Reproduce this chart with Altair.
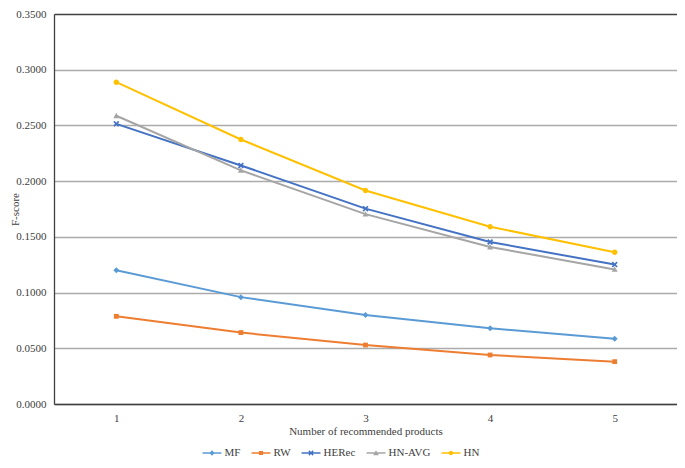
import altair as alt
import pandas as pd

# ---- data ----
products = [1, 2, 3, 4, 5]
series_names = ["MF", "RW", "HERec", "HN-AVG", "HN"]
mf = [0.1200, 0.0959, 0.0799, 0.0680, 0.0586]
rw = [0.0787, 0.0641, 0.0529, 0.0440, 0.0380]
herec = [0.2514, 0.2141, 0.1753, 0.1454, 0.1251]
hn_avg = [0.2587, 0.2097, 0.1704, 0.1409, 0.1208]
hn = [0.2888, 0.2374, 0.1916, 0.1591, 0.1362]
y_ticks = [0.0, 0.05, 0.10, 0.15, 0.20, 0.25, 0.30, 0.35]
colors = ["#5B9BD5", "#ED7D31", "#4472C4", "#A5A5A5", "#FFC000"]

rows = []
for name, vals in zip(series_names, [mf, rw, herec, hn_avg, hn]):
    for p, v in zip(products, vals):
        rows.append({"n": p, "series": name, "fscore": v})
df = pd.DataFrame(rows)


# ---- marker shapes (unit-square svg paths) ----
def diamond(k):
    return f"M0,{-k}L{k},0L0,{k}L{-k},0Z"


def square(k):
    return f"M{-k},{-k}L{k},{-k}L{k},{k}L{-k},{k}Z"


def triangle(k):
    return f"M0,{-k}L{k},{0.8*k}L{-k},{0.8*k}Z"


def circle(k):
    return f"M{k},0A{k},{k} 0 1,1 {-k},0A{k},{k} 0 1,1 {k},0Z"


def xmark(k):
    pts = [(-1, -0.6), (-0.6, -1), (0, -0.4), (0.6, -1), (1, -0.6), (0.4, 0),
           (1, 0.6), (0.6, 1), (0, 0.4), (-0.6, 1), (-1, 0.6), (-0.4, 0)]
    return "M" + "L".join(f"{x*k:.3f},{y*k:.3f}" for x, y in pts) + "Z"


chart_markers = [diamond(1.0), square(0.8), xmark(1.0), triangle(1.0), circle(0.9)]
line_seg = "M-0.86,-0.065L0.86,-0.065L0.86,0.065L-0.86,0.065Z"
legend_markers = [line_seg + diamond(0.24), line_seg + square(0.19), line_seg + xmark(0.24),
                  line_seg + triangle(0.26), line_seg + circle(0.2)]

W, H = 623, 390
TXT = "#404040"
FONT = "Liberation Serif"

x_enc = alt.X(
    "n:O",
    scale=alt.Scale(padding=0.5),
    axis=alt.Axis(title="Number of recommended products", labelAngle=0, ticks=False, tickSize=0,
                  labelPadding=8, titlePadding=2, domainColor=TXT, domainWidth=1.3, grid=False),
)
y_enc = alt.Y(
    "fscore:Q",
    scale=alt.Scale(domain=[0, 0.35], nice=False, zero=True),
    axis=alt.Axis(values=y_ticks, format=".4f", title="F-score", ticks=False, tickSize=0,
                  labelPadding=8, domainColor=TXT, domainWidth=1.3,
                  gridColor={"condition": {"test": "datum.value >= 0.349", "value": TXT},
                             "value": "#ABABAB"},
                  gridWidth=1.3, titleX=-39, titleY=H / 2, titleAngle=270,
                  titleBaseline="middle", titleAlign="center"),
)

base = alt.Chart(df).encode(x=x_enc, y=y_enc)
color_scale = alt.Scale(domain=series_names, range=colors)

lines = base.mark_line(strokeWidth=2).encode(
    color=alt.Color("series:N", scale=color_scale, legend=None),
    order=alt.Order("n:O"),
)
points = base.mark_point(filled=True, opacity=1, size=36, strokeWidth=0).encode(
    color=alt.Color("series:N", scale=color_scale, legend=None),
    shape=alt.Shape("series:N", scale=alt.Scale(domain=series_names, range=chart_markers), legend=None),
)

leg = alt.Legend(title=None, orient="none", legendX=147, legendY=H + 38, direction="horizontal",
                 labelFont=FONT, labelFontSize=11, labelColor=TXT, labelOffset=1.5,
                 columnPadding=9, symbolSize=484, symbolStrokeWidth=0, padding=0)

legend_layer = base.mark_point(filled=True, opacity=1, size=484, strokeWidth=0).encode(
    color=alt.Color("series:N", scale=color_scale, legend=leg),
    shape=alt.Shape("series:N", scale=alt.Scale(domain=series_names, range=legend_markers), legend=leg),
).transform_filter("false")

chart = (
    alt.layer(lines, points, legend_layer)
    .resolve_scale(color="independent", shape="independent")
    .properties(
        width=W, height=H,
        padding={"left": 46, "top": 6, "right": 0, "bottom": 56},
        autosize=alt.AutoSizeParams(type="none"),
    )
    .configure(font=FONT)
    .configure_view(stroke="#D0D0D0", strokeWidth=1)
    .configure_axis(labelFont=FONT, labelFontSize=11, labelColor=TXT,
                    titleFont=FONT, titleFontSize=11, titleColor=TXT, titleFontWeight="normal")
)

chart.save("out.html", embed_options={"renderer": "svg", "actions": False})
